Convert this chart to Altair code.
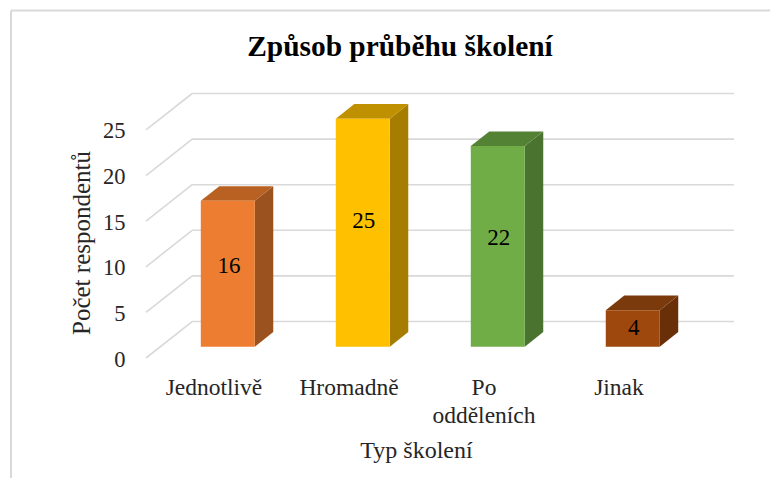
import altair as alt
import pandas as pd

# ---- values
categories = ["Jednotlivě", "Hromadně", "Po oddělením", "Jinak"]
values = [16, 25, 22, 4]
label_heights = [10.1, 15.0, 13.2, 3.3]
face_colors = ["#ED7D31", "#FFC000", "#70AD47", "#9E480E"]
side_colors = ["#9B521F", "#A67D00", "#4B7330", "#692F09"]
top_colors = ["#B96122", "#BF9000", "#548235", "#7B3A0B"]
y_ticks = [0, 5, 10, 15, 20, 25]
x_tick_names = ["Jednotlivě", "Hromadně", ["Po", "odděleních"], "Jinak"]

# ---- oblique projection parameters of the pseudo-3D box (in axis units)
WALL_DEPTH = 4.0      # value units the back wall is raised
SLOT_SHIFT = 0.0855   # category slots moved right per depth unit
BAR_NEAR = 1.24
BAR_DEPTH = 1.6
BAR_L, BAR_R = 0.30, 0.70
X_MAX = 4.356

GRID = "#D9D9D9"
FONT = "Liberation Serif"
TEXT = "#262626"

front, side, top, lab = [], [], [], []
for i, (c, v) in enumerate(zip(categories, values)):
    shift = BAR_NEAR * SLOT_SHIFT
    dshift = BAR_DEPTH * SLOT_SHIFT
    x0, x1 = i + BAR_L + shift, i + BAR_R + shift
    b = BAR_NEAR
    t = BAR_NEAR + v
    front.append(dict(x=x0, x2=x1, y=b, y2=t, c=face_colors[i]))
    side.append(dict(x=x1, y=b, y2=t, c=side_colors[i]))
    side.append(dict(x=x1 + dshift, y=b + BAR_DEPTH, y2=t + BAR_DEPTH, c=side_colors[i]))
    top.append(dict(y=t, x=x0, x2=x1, c=top_colors[i]))
    top.append(dict(y=t + BAR_DEPTH, x=x0 + dshift, x2=x1 + dshift, c=top_colors[i]))
    lab.append(dict(x=(x0 + x1) / 2 + 0.008, y=label_heights[i], t=str(v)))

grid_rows = []
for v in y_ticks:
    wall_x = WALL_DEPTH * SLOT_SHIFT
    grid_rows.append(dict(x=0, x2=wall_x, y=v, y2=v + WALL_DEPTH))
    grid_rows.append(dict(x=wall_x, x2=X_MAX, y=v + WALL_DEPTH, y2=v + WALL_DEPTH))

xs = alt.Scale(domain=[0, X_MAX], nice=False, zero=False)
ys = alt.Scale(domain=[0, 25 + WALL_DEPTH], nice=False, zero=False)

label_expr = (
    "[" + ",".join(
        ("[" + ",".join(f"'{p}'" for p in n) + "]") if isinstance(n, list) else f"'{n}'"
        for n in x_tick_names
    ) + "][floor(datum.value)]"
)

x_axis = alt.Axis(
    title="Typ školení", values=[0.5, 1.5, 2.5, 3.5], labelExpr=label_expr,
    grid=False, domain=False, ticks=False, labelPadding=17, labelFont=FONT,
    labelFontSize=23.5, labelColor=TEXT, labelLineHeight=28, labelAngle=0,
    labelFlush=False, labelOverlap=False, labelBound=False,
    titleFont=FONT, titleFontSize=24, titleFontWeight="normal", titleColor=TEXT,
    titleX=270, titleY=99, titleBaseline="alphabetic",
)
y_axis = alt.Axis(
    title="Počet respondentů", values=y_ticks, grid=False, domain=False, ticks=False,
    labelPadding=21, labelFont=FONT, labelFontSize=22.5, labelColor=TEXT, labelOffset=1,
    titleFont=FONT, titleFontSize=25, titleFontWeight="normal", titleColor=TEXT,
    titleX=-57, titleY=149, titleBaseline="alphabetic",
)

grid_layer = alt.Chart(pd.DataFrame(grid_rows)).mark_rule(color=GRID, strokeWidth=1.6).encode(
    x=alt.X("x:Q", scale=xs, axis=x_axis),
    x2="x2:Q",
    y=alt.Y("y:Q", scale=ys, axis=y_axis),
    y2="y2:Q",
)
front_layer = alt.Chart(pd.DataFrame(front)).mark_rect(strokeWidth=0).encode(
    x=alt.X("x:Q", scale=xs), x2="x2:Q",
    y=alt.Y("y:Q", scale=ys), y2="y2:Q",
    color=alt.Color("c:N", scale=None),
)
side_layer = alt.Chart(pd.DataFrame(side)).mark_area(orient="vertical").encode(
    x=alt.X("x:Q", scale=xs),
    y=alt.Y("y:Q", scale=ys, stack=None), y2="y2:Q",
    color=alt.Color("c:N", scale=None),
)
top_layer = alt.Chart(pd.DataFrame(top)).mark_area(orient="horizontal").encode(
    y=alt.Y("y:Q", scale=ys),
    x=alt.X("x:Q", scale=xs, stack=None), x2="x2:Q",
    color=alt.Color("c:N", scale=None),
)
text_layer = alt.Chart(pd.DataFrame(lab)).mark_text(
    font=FONT, fontSize=23, color="#000000", baseline="middle", align="center"
).encode(
    x=alt.X("x:Q", scale=xs), y=alt.Y("y:Q", scale=ys), text="t:N"
)
# chart frame: only its top and left edges are visible in the reference
frame_top = alt.Chart(pd.DataFrame({"a": [0]})).mark_rule(color=GRID, strokeWidth=2).encode(
    x=alt.value(-135), x2=alt.value(640), y=alt.value(-83)
)
frame_left = alt.Chart(pd.DataFrame({"a": [0]})).mark_rule(color=GRID, strokeWidth=2).encode(
    x=alt.value(-135), y=alt.value(-83), y2=alt.value(400)
)

chart = (
    alt.layer(frame_top, frame_left, grid_layer, side_layer, top_layer, front_layer, text_layer)
    .resolve_scale(color="independent")
    .properties(
        width=588, height=264.5,
        title=alt.TitleParams(
            "Způsob průběhu školení", font=FONT, fontSize=29.4, fontWeight="bold",
            color="#000000", anchor="middle", dx=-40, offset=0, dy=53,
        ),
        autosize=alt.AutoSizeParams(type="none"),
        padding={"left": 138, "top": 85.5, "right": 36, "bottom": 120},
    )
    .configure_view(stroke=None)
)
chart.save("out.html", embed_options={"renderer": "svg", "actions": False})
